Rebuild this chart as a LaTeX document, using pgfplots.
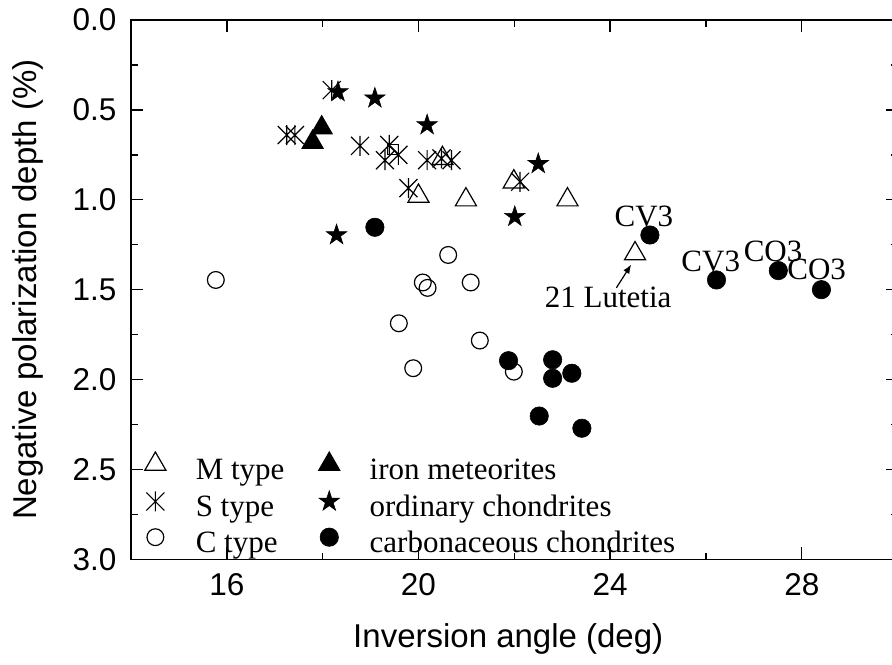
\documentclass[border=0pt]{standalone}
\usepackage{pgfplots}
\pgfplotsset{compat=1.18}
\usepackage{fontspec}
\setmainfont{Liberation Serif}
\newfontfamily\arial{Liberation Sans}
\usetikzlibrary{arrows.meta}

% filled five-point star
\pgfdeclareplotmark{fstar}{%
  \pgfpathmoveto{\pgfpointpolar{90}{\pgfplotmarksize}}%
  \pgfpathlineto{\pgfpointpolar{126}{0.382\pgfplotmarksize}}%
  \pgfpathlineto{\pgfpointpolar{162}{\pgfplotmarksize}}%
  \pgfpathlineto{\pgfpointpolar{198}{0.382\pgfplotmarksize}}%
  \pgfpathlineto{\pgfpointpolar{234}{\pgfplotmarksize}}%
  \pgfpathlineto{\pgfpointpolar{270}{0.382\pgfplotmarksize}}%
  \pgfpathlineto{\pgfpointpolar{306}{\pgfplotmarksize}}%
  \pgfpathlineto{\pgfpointpolar{342}{0.382\pgfplotmarksize}}%
  \pgfpathlineto{\pgfpointpolar{18}{\pgfplotmarksize}}%
  \pgfpathlineto{\pgfpointpolar{54}{0.382\pgfplotmarksize}}%
  \pgfpathclose
  \pgfusepathqfillstroke}
% asterisk: vertical bar plus a cross
\pgfdeclareplotmark{sast}{%
  \pgfpathmoveto{\pgfqpoint{0pt}{\pgfplotmarksize}}%
  \pgfpathlineto{\pgfqpoint{0pt}{-\pgfplotmarksize}}%
  \pgfpathmoveto{\pgfqpoint{0.9\pgfplotmarksize}{0.9\pgfplotmarksize}}%
  \pgfpathlineto{\pgfqpoint{-0.9\pgfplotmarksize}{-0.9\pgfplotmarksize}}%
  \pgfpathmoveto{\pgfqpoint{-0.9\pgfplotmarksize}{0.9\pgfplotmarksize}}%
  \pgfpathlineto{\pgfqpoint{0.9\pgfplotmarksize}{-0.9\pgfplotmarksize}}%
  \pgfusepathqstroke}

\pgfplotsset{lgimg/.style={legend image code/.code={%
  \path (0pt,0pt) (29pt,0pt);
  \draw[##1] plot coordinates {(9pt,4pt)};}}}

\begin{document}
\begin{tikzpicture}
\begin{axis}[
  at={(0pt,0pt)}, anchor=south west,
  scale only axis,
  width=383.3pt, height=269.65pt,
  xmin=14, xmax=30, ymin=0, ymax=3,
  y dir=reverse,
  xtick={16,20,24,28}, minor xtick={18,22,26},
  ytick={0,0.5,1,1.5,2,2.5,3}, minor ytick={0.25,0.75,1.25,1.75,2.25,2.75},
  yticklabel={\pgfmathprintnumber[fixed,fixed zerofill,precision=1]{\tick}},
  /pgf/number format/assume math mode=true,
  tick align=inside,
  major tick length=6pt, minor tick length=3.25pt,
  axis line style={line width=0.7pt},
  every tick/.style={line width=0.7pt, black},
  tick label style={font=\arial\fontsize{15.75}{18}\selectfont},
  xticklabel style={yshift=-3.6pt},
  yticklabel style={xshift=-3.75pt},
  xlabel={Inversion angle (deg)},
  ylabel={Negative polarization depth (\%)},
  label style={font=\arial\fontsize{16.5}{19}\selectfont},
  xlabel style={at={(axis description cs:0.4921,-0.1063)}, anchor=north},
  ylabel style={at={(axis description cs:-0.1057,0.5)}, anchor=south},
  legend columns=2,
  legend cell align=left,
  legend style={draw=none, fill=none, at={(0.0078,0.1990)}, anchor=north west,
    inner sep=0pt, outer sep=0pt, font=\fontsize{15.5}{18}\selectfont,
    row sep=2pt, column sep=0pt,
    nodes={inner sep=0pt, text height=11pt, text depth=3.5pt},
    /tikz/every even column/.append style={column sep=13.2pt}},
  clip=false,
]
% M type
\addplot[only marks, mark=triangle, mark size=6.1pt, mark options={fill=white, line width=0.6pt}, lgimg] coordinates {
  (20.00,0.98) (20.99,1.00) (21.99,0.90) (23.11,1.00) (24.52,1.30) (20.50,0.77)
};
\addlegendentry{M type}
\addplot[only marks, mark=square, mark size=2.6pt, mark options={fill=white, line width=0.6pt}, forget plot] coordinates {
  (19.47,0.72)
};
% iron meteorites
\addplot[only marks, mark=triangle*, mark size=6.1pt, mark options={fill=black, line width=0.5pt}, lgimg] coordinates {
  (17.79,0.68) (17.98,0.60)
};
\addlegendentry{iron meteorites}
% S type
\addplot[only marks, mark=sast, mark size=5pt, mark options={line width=0.6pt}, lgimg] coordinates {
  (18.19,0.39) (17.25,0.64) (17.42,0.64) (18.78,0.70) (19.39,0.695)
  (19.30,0.78) (19.58,0.75) (20.18,0.78) (20.48,0.77) (20.69,0.78)
  (19.79,0.935) (22.12,0.90)
};
\addlegendentry{S type}
% ordinary chondrites
\addplot[only marks, mark=fstar, mark size=5.4pt, mark options={fill=black, line width=0.3pt}, lgimg] coordinates {
  (18.32,0.40) (19.09,0.435) (20.18,0.584) (22.50,0.80) (22.01,1.094) (18.29,1.196)
};
\addlegendentry{ordinary chondrites}
% C type
\addplot[only marks, mark=o, mark size=4.2pt, mark options={fill=white, line width=0.6pt}, lgimg] coordinates {
  (15.77,1.446) (20.62,1.307) (20.09,1.46) (20.19,1.49) (21.09,1.46)
  (19.59,1.687) (21.28,1.783) (19.89,1.937) (21.99,1.956)
};
\addlegendentry{C type}
% carbonaceous chondrites
\addplot[only marks, mark=*, mark size=4.6pt, mark options={fill=black, line width=0.3pt}, lgimg] coordinates {
  (19.09,1.153) (24.83,1.196) (26.22,1.446) (27.51,1.394) (28.41,1.50)
  (21.88,1.895) (22.80,1.89) (22.80,1.993) (23.20,1.965) (22.52,2.203) (23.41,2.271)
};
\addlegendentry{carbonaceous chondrites}

\node[font=\fontsize{15.5}{18}\selectfont, anchor=base, inner sep=0pt] at (axis cs:24.705,1.1496) {CV3};
\node[font=\fontsize{15.5}{18}\selectfont, anchor=base, inner sep=0pt] at (axis cs:26.10,1.400) {CV3};
\node[font=\fontsize{15.5}{18}\selectfont, anchor=base, inner sep=0pt] at (axis cs:27.40,1.344) {CO3};
\node[font=\fontsize{15.5}{18}\selectfont, anchor=base, inner sep=0pt] at (axis cs:28.31,1.446) {CO3};
\node[font=\fontsize{15.5}{18}\selectfont, anchor=base, inner sep=0pt] at (axis cs:23.96,1.602) {21 Lutetia};
\draw[-{Latex[length=4.5pt,width=3.5pt]}, line width=0.6pt] (axis cs:24.13,1.49) -- (axis cs:24.44,1.36);
\end{axis}
\pgfresetboundingbox
\path[use as bounding box] (-65.5pt,-52.35pt) rectangle (380.5pt,279.65pt);
\end{tikzpicture}
\end{document}
